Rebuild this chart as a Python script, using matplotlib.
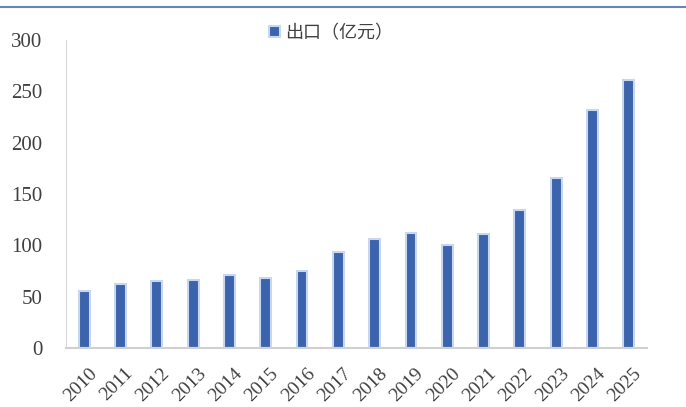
import matplotlib.pyplot as plt
import matplotlib.transforms as mtransforms
from matplotlib.lines import Line2D

# Data
years = [str(y) for y in range(2010, 2026)]
exports = [55.5, 62, 65, 66, 71, 68, 75, 93.5, 106, 112, 100, 111, 134, 165.5, 232, 261]

plt.rcParams['font.family'] = ['Liberation Serif', 'Noto Sans CJK SC']

fig = plt.figure(figsize=(6.86, 4.07), dpi=100)
ax = fig.add_axes([0.0962, 0.145, 0.847, 0.757])

ax.bar(range(len(years)), exports, width=0.3, color='#3B64AD',
       edgecolor='#C9D7EE', linewidth=1.5, label='出口（亿元）')

ax.set_xlim(-0.5, len(years) - 0.5)
ax.set_ylim(0, 300)
ax.set_yticks(range(0, 301, 50))
ax.set_xticks(range(len(years)))
ax.set_xticklabels(years, rotation=45, ha='right', rotation_mode='anchor', fontsize=14, color='#404040')
ax.tick_params(axis='y', labelsize=15, colors='#404040', length=0, pad=17)
ax.tick_params(axis='x', length=0, pad=12)

# nudge year labels to the right a little
offset = mtransforms.ScaledTranslation(3 / 72, 0, fig.dpi_scale_trans)
for lbl in ax.get_xticklabels():
    lbl.set_transform(lbl.get_transform() + offset)

for s in ['top', 'right']:
    ax.spines[s].set_visible(False)
ax.spines['left'].set_color('#D9D9D9')
ax.spines['bottom'].set_color('#D0D0D0')
ax.spines['bottom'].set_linewidth(1.5)

# Legend
ax.legend(loc='center', bbox_to_anchor=(0.456, 1.023), frameon=False,
          prop={'family': 'Noto Sans CJK SC', 'size': 13}, handlelength=0.6,
          handleheight=0.6, handletextpad=0.3, labelcolor='#404040')

# Top rule across the figure
fig.add_artist(Line2D([0, 1], [1 - 7 / 407, 1 - 7 / 407], color='#6A84B6', linewidth=1.5))

fig.savefig('out.png', dpi=100)
